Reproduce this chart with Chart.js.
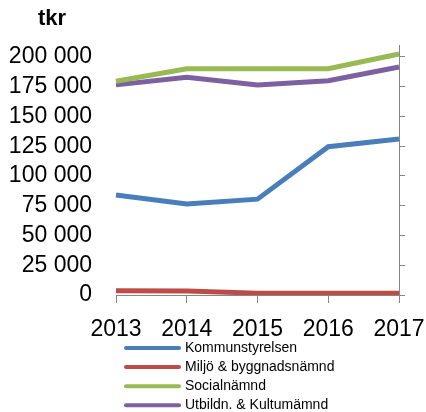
<!DOCTYPE html>
<html>
<head>
<meta charset="utf-8">
<script src="https://cdn.jsdelivr.net/npm/chart.js@4/dist/chart.umd.min.js"></script>
<style>
  html, body { margin: 0; padding: 0; background: #fff; }
  #wrap { width: 426px; height: 412px; }
</style>
</head>
<body>
<div id="wrap"><canvas id="mychart" width="426" height="412"></canvas></div>
<script>
var years = ["2013", "2014", "2015", "2016", "2017"];
var seriesNames = ["Kommunstyrelsen", "Miljö & byggnadsnämnd", "Socialnämnd", "Utbildn. & Kultumämnd"];
var kommunstyrelsen = [84000, 76500, 80500, 124500, 131000];
var miljo = [3500, 3400, 1500, 1400, 1400];
var social = [179500, 190000, 190000, 190000, 202500];
var utbildn = [176500, 183000, 176500, 180000, 191500];
var yTicks = [0, 25000, 50000, 75000, 100000, 125000, 150000, 175000, 200000];
var seriesColors = ["#4A7EBB", "#BE4B48", "#98B954", "#7D60A0"];
var unitLabel = "tkr";

Chart.defaults.font.family = "'Liberation Sans', Arial, sans-serif";
Chart.defaults.color = "#000000";

function fmt(v) {
   return String(v).replace(/\B(?=(\d{3})+(?!\d))/g, " ");
}

function setTicks(axis) {
   axis.ticks = yTicks.map(function (v) { return { value: v }; });
}

// legend drawn one item per row, plus the "tkr" unit at the top
var sideLegend = {
   id: "sideLegend",
   afterDraw: function (chart) {
      var ctx = chart.ctx;
      ctx.save();
      ctx.fillStyle = "#000";
      ctx.font = "bold 22px 'Liberation Sans', Arial, sans-serif";
      ctx.textBaseline = "middle";
      ctx.fillText(unitLabel, 38, 19);

      ctx.font = "14px 'Liberation Sans', Arial, sans-serif";
      chart.data.datasets.forEach(function (ds, i) {
         var y = 348 + i * 19.1;
         ctx.strokeStyle = ds.borderColor;
         ctx.lineWidth = 4;
         ctx.lineCap = "round";
         ctx.beginPath();
         ctx.moveTo(126, y);
         ctx.lineTo(179, y);
         ctx.stroke();
         ctx.fillText(ds.label, 185, y);
      });
      ctx.restore();
   },
};

var datasets = [kommunstyrelsen, miljo, social, utbildn].map(function (vals, i) {
   return {
      label: seriesNames[i],
      data: vals,
      borderColor: seriesColors[i],
      backgroundColor: seriesColors[i],
      borderWidth: 5,
      pointRadius: 0,
      tension: 0,
      yAxisID: "y",
   };
});

new Chart(document.getElementById("mychart"), {
   type: "line",
   data: { labels: years, datasets: datasets },
   plugins: [sideLegend],
   options: {
      responsive: false,
      animation: false,
      layout: { padding: { left: 9, top: 45, right: 21, bottom: 68 } },
      plugins: {
         legend: { display: false },
         tooltip: { enabled: false },
      },
      scales: {
         x: {
            offset: false,
            grid: { display: true, drawOnChartArea: false, tickLength: 8, color: "#868686" },
            border: { display: true, color: "#868686", width: 1 },
            ticks: { font: { size: 23 }, padding: 13, maxRotation: 0, autoSkip: false },
            afterFit: function (s) { s.paddingLeft = 0; s.paddingRight = 0; s.height = 49; },
         },
         y: {
            position: "left",
            min: 0,
            max: 210000,
            grid: { display: false, drawTicks: false },
            border: { display: false },
            afterBuildTicks: setTicks,
            afterFit: function (s) { s.width = 107; s.paddingTop = 0; s.paddingBottom = 0; },
            ticks: {
               autoSkip: false,
               font: { size: 23 },
               padding: 24,
               callback: function (v) { return fmt(v); },
            },
         },
         y2: {
            position: "right",
            min: 0,
            max: 210000,
            grid: { display: true, drawOnChartArea: false, tickLength: 6, color: "#868686" },
            border: { display: true, color: "#868686", width: 1 },
            afterBuildTicks: setTicks,
            afterFit: function (s) { s.width = 6; },
            ticks: { display: false, autoSkip: false },
         },
      },
   },
});
</script>
</body>
</html>
